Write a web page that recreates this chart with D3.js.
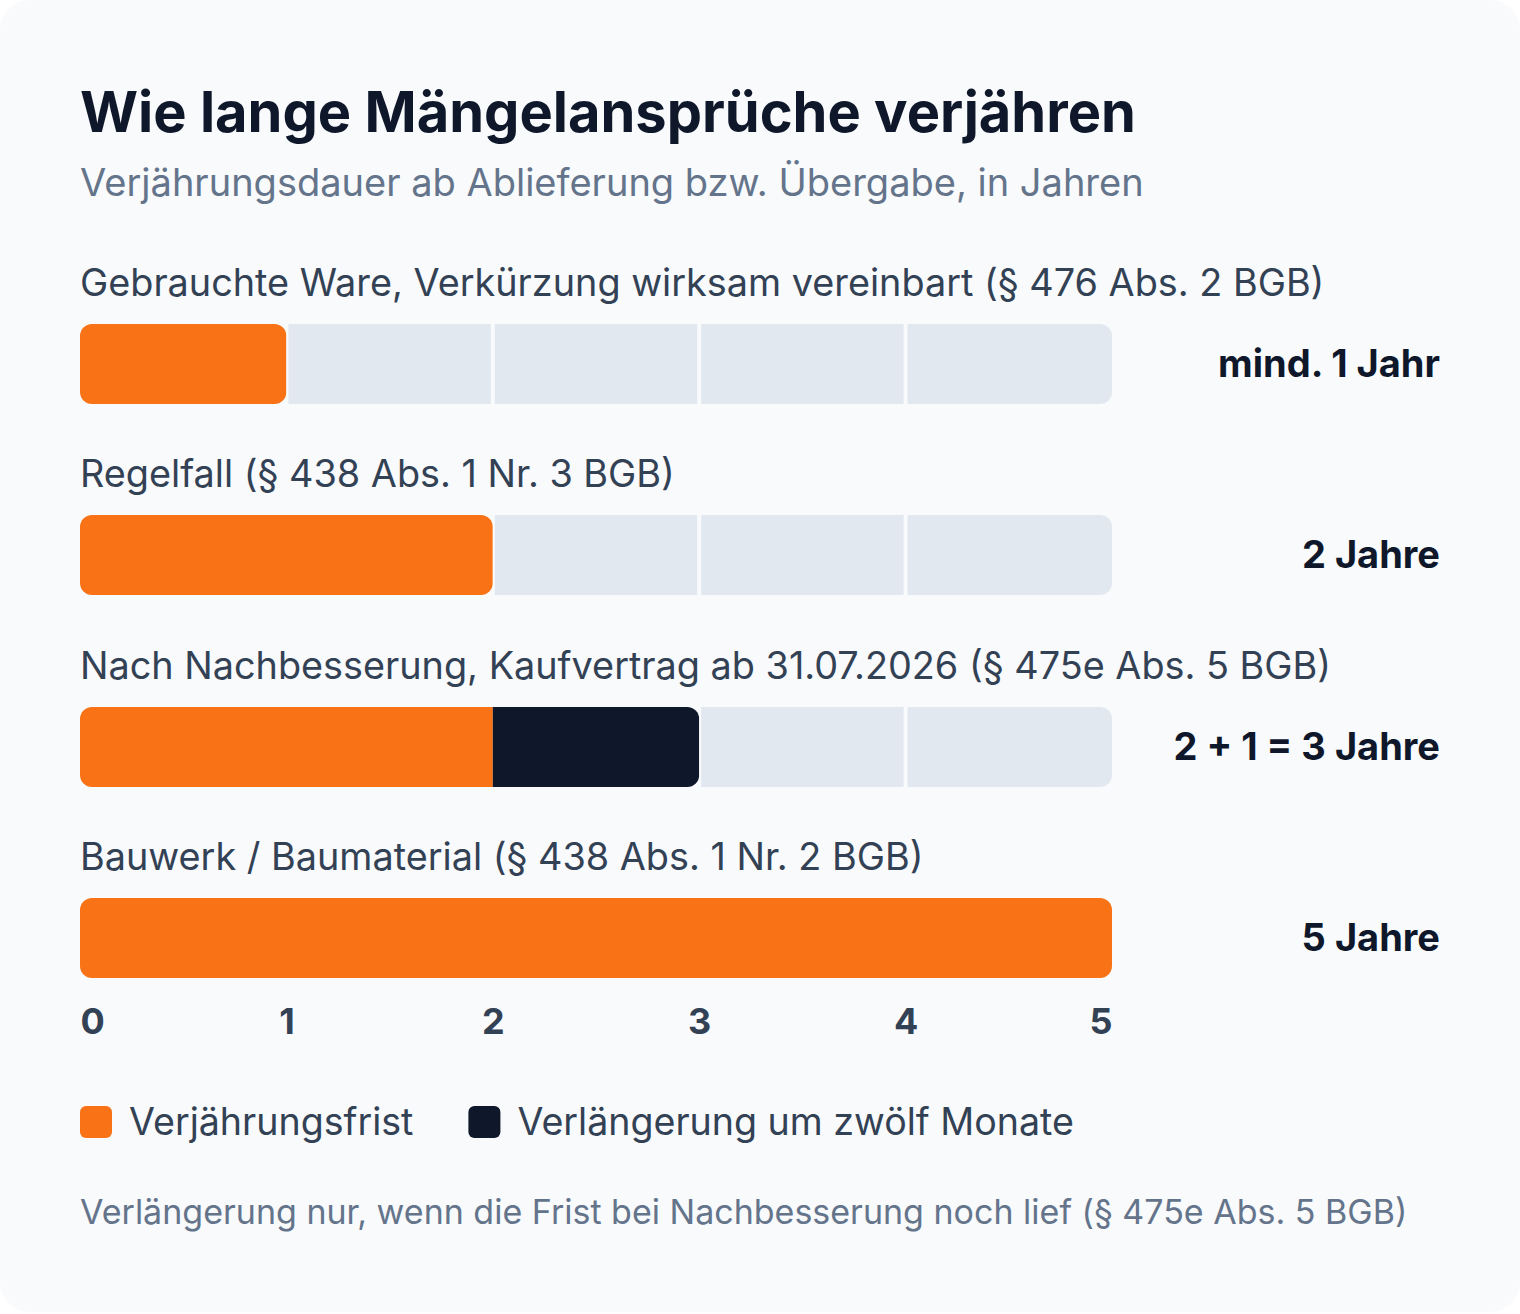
<!DOCTYPE html>
<html>
<head>
<meta charset="utf-8">
<script src="https://cdn.jsdelivr.net/npm/d3@7/dist/d3.min.js"></script>
<style>
  html, body { margin: 0; padding: 0; background: #ffffff; }
  svg { display: block; }
  text { font-family: Inter, "Noto Sans", sans-serif; }
</style>
</head>
<body>
<svg id="chart" width="1520" height="1314"></svg>
<script>
const title = "Wie lange Mängelansprüche verjähren";
const subtitle = "Verjährungsdauer ab Ablieferung bzw. Übergabe, in Jahren";
const categories = [
  "Gebrauchte Ware, Verkürzung wirksam vereinbart (§ 476 Abs. 2 BGB)",
  "Regelfall (§ 438 Abs. 1 Nr. 3 BGB)",
  "Nach Nachbesserung, Kaufvertrag ab 31.07.2026 (§ 475e Abs. 5 BGB)",
  "Bauwerk / Baumaterial (§ 438 Abs. 1 Nr. 2 BGB)"
];
const baseValues = [1, 2, 2, 5];
const extensionValues = [0, 0, 1, 0];
const valueLabels = ["mind. 1 Jahr", "2 Jahre", "2 + 1 = 3 Jahre", "5 Jahre"];
const tickValues = [0, 1, 2, 3, 4, 5];
const legendLabels = ["Verjährungsfrist", "Verlängerung um zwölf Monate"];
const footnote = "Verlängerung nur, wenn die Frist bei Nachbesserung noch lief (§ 475e Abs. 5 BGB)";

const colors = { base: "#f97316", ext: "#0f172a", track: "#e2e8f0", bg: "#f8fafc" };

const svg = d3.select("#chart");
const W = 1520, H = 1314;

svg.append("rect").attr("x", 0).attr("y", 0).attr("width", W).attr("height", H - 2)
  .attr("rx", 30).attr("fill", colors.bg);

const x = d3.scaleLinear().domain([0, 5]).range([80, 1112]);
const y = d3.scaleBand().domain(d3.range(categories.length)).range([324, 324 + 191.4 * 4]).paddingInner(0);
const barH = 80, rx = 12;

svg.append("text").attr("x", 80).attr("y", 132).attr("font-size", 56).attr("font-weight", 700)
  .attr("fill", "#0f172a").text(title);
svg.append("text").attr("x", 80).attr("y", 196).attr("font-size", 38).attr("fill", "#64748b").text(subtitle);

const defs = svg.append("defs");

categories.forEach((cat, i) => {
  const top = Math.round(y(i));
  const total = baseValues[i] + extensionValues[i];
  const g = svg.append("g");

  g.append("text").attr("x", 80).attr("y", top - 28).attr("font-size", 37.8).attr("fill", "#334155").text(cat);

  defs.append("clipPath").attr("id", "track" + i).append("rect")
    .attr("x", x(0)).attr("y", top).attr("width", x(5) - x(0)).attr("height", barH).attr("rx", rx);
  const cells = d3.range(5).filter(k => k >= total);
  g.append("g").attr("clip-path", `url(#track${i})`).selectAll("rect").data(cells).join("rect")
    .attr("x", k => x(k) + (k > 0 ? 2 : 0))
    .attr("width", k => x(k + 1) - x(k) - (k > 0 ? 2 : 0) - (k < 4 ? 2 : 0))
    .attr("y", top).attr("height", barH).attr("fill", colors.track);

  defs.append("clipPath").attr("id", "val" + i).append("rect")
    .attr("x", x(0)).attr("y", top).attr("width", x(total) - x(0)).attr("height", barH).attr("rx", rx);
  const segs = [
    { v0: 0, v1: baseValues[i], c: colors.base },
    { v0: baseValues[i], v1: total, c: colors.ext }
  ].filter(s => s.v1 > s.v0);
  g.append("g").attr("clip-path", `url(#val${i})`).selectAll("rect").data(segs).join("rect")
    .attr("x", s => x(s.v0)).attr("width", s => x(s.v1) - x(s.v0))
    .attr("y", top).attr("height", barH).attr("fill", s => s.c);

  g.append("text").attr("x", 1440).attr("y", top + barH / 2).attr("dy", "0.35em")
    .attr("text-anchor", "end").attr("font-size", 38).attr("font-weight", 700)
    .attr("fill", "#0f172a").text(valueLabels[i]);
});

const axisG = svg.append("g").attr("transform", "translate(0,1000)")
  .call(d3.axisBottom(x).tickValues(tickValues).tickSize(0).tickPadding(0).tickFormat(d3.format("d")));
axisG.select(".domain").remove();
axisG.selectAll("text")
  .attr("y", 34).attr("dy", 0)
  .attr("font-family", "Inter, 'Noto Sans', sans-serif")
  .attr("font-size", 36).attr("font-weight", 700).attr("fill", "#334155")
  .attr("text-anchor", d => d === 0 ? "start" : d === 5 ? "end" : "middle");

const legend = svg.append("g").attr("transform", "translate(80,1106)");
let lx = 0;
const legendColors = [colors.base, colors.ext];
legendLabels.forEach((lab, i) => {
  legend.append("rect").attr("x", lx).attr("y", 0).attr("width", 32).attr("height", 32).attr("rx", 6)
    .attr("fill", legendColors[i]);
  const t = legend.append("text").attr("x", lx + 49).attr("y", 16).attr("dy", "0.35em")
    .attr("font-size", 37.6).attr("fill", "#334155").text(lab);
  lx += 49 + t.node().getComputedTextLength() + 55;
});

svg.append("text").attr("x", 80).attr("y", 1224).attr("font-size", 34).attr("fill", "#64748b").text(footnote);
</script>
</body>
</html>
